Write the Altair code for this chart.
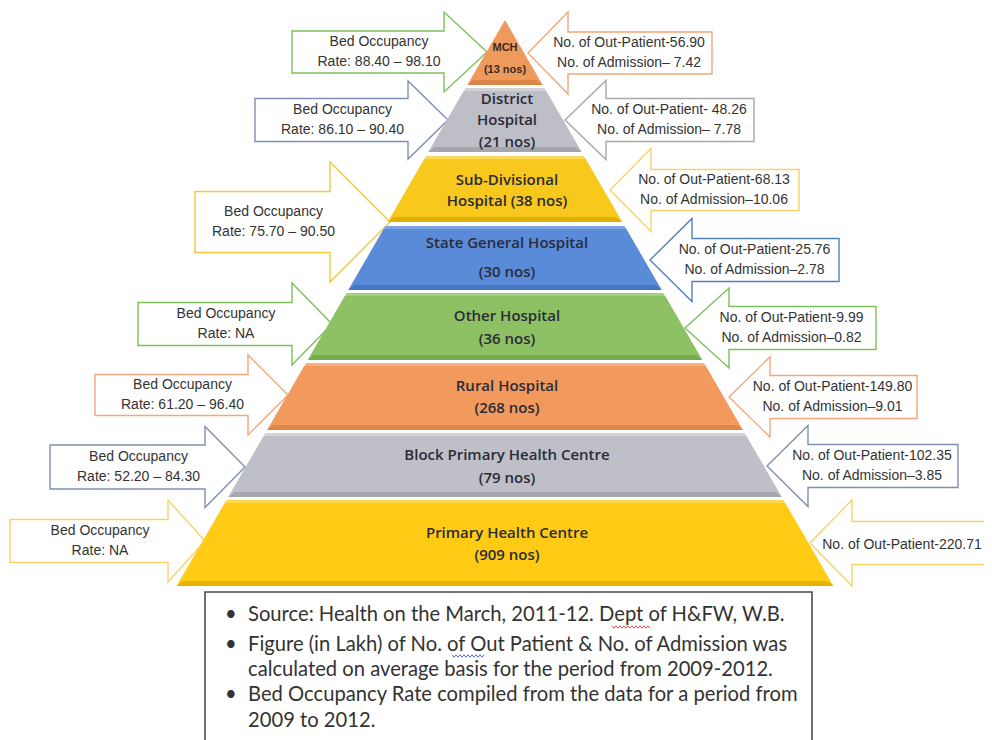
import altair as alt
import pandas as pd

# ------------------------------------------------------------------ data
levels = ["MCH", "District Hospital", "Sub-Divisional Hospital", "State General Hospital",
          "Other Hospital", "Rural Hospital", "Block Primary Health Centre", "Primary Health Centre"]
counts = [13, 21, 38, 30, 36, 268, 79, 909]
band_text = [["MCH", "(13 nos)"],
             ["District", "Hospital", "(21 nos)"],
             ["Sub-Divisional", "Hospital (38 nos)"],
             ["State General Hospital", "(30 nos)"],
             ["Other Hospital", "(36 nos)"],
             ["Rural Hospital", "(268 nos)"],
             ["Block Primary Health Centre", "(79 nos)"],
             ["Primary Health Centre", "(909 nos)"]]
band_colors = ["#EE9A5C", "#BEBEC6", "#F8C81C", "#5A8BD8", "#8DC163", "#F29A5E", "#BFBFC7", "#FFCB14"]
band_dark = ["#DA8546", "#A5A5AE", "#E0B000", "#4675C2", "#76AC4E", "#DE8548", "#A6A6B0", "#E8B300"]
band_light = ["#F4B07E", "#D2D2D8", "#FBD75A", "#7BA3E2", "#A6CF84", "#F6B081", "#D3D3D9", "#FFD84E"]

# bed occupancy (left arrows)
bed_levels = ["MCH", "District Hospital", "Sub-Divisional Hospital", "Other Hospital",
              "Rural Hospital", "Block Primary Health Centre", "Primary Health Centre"]
bed_rates = ["88.40 – 98.10", "86.10 – 90.40", "75.70 – 90.50", "NA",
             "61.20 – 96.40", "52.20 – 84.30", "NA"]
bed_colors = ["#7DBF5A", "#8190B2", "#F2C83A", "#7DBF5A", "#F4A77A", "#8190B2", "#F5D36A"]

# out-patients / admissions in lakh (right arrows)
op_values = ["56.90", "48.26", "68.13", "25.76", "9.99", "149.80", "102.35", "220.71"]
adm_values = ["7.42", "7.78", "10.06", "2.78", "0.82", "9.01", "3.85", ""]
op_sep = ["-", "- ", "-", "-", "-", "-", "-", "-"]
adm_sep = ["– ", "– ", "–", "–", "–", "–", "–", ""]
op_colors = ["#F4A77A", "#A8A8AC", "#F5D36A", "#4F81C7", "#7DBF5A", "#F4A77A", "#8190B2", "#F5D36A"]

notes = ["Source: Health on the March, 2011-12. Dept of H&FW, W.B.",
         "Figure (in Lakh) of No. of Out Patient & No. of Admission was",
         "calculated on average basis for the period from 2009-2012.",
         "Bed Occupancy Rate compiled from the data for a period from",
         "2009 to 2012."]
note_bullet = [True, True, False, True, False]

# ------------------------------------------------------------------ layout (page pixels)
APEX_X, APEX_Y, SLOPE = 505, 20, 0.58
band_top = [20, 88, 156, 226, 293, 363, 433, 500]
band_bot = [85, 152, 222, 290, 360, 430, 497, 586]
band_line_y = [[48, 70], [99, 120, 142], [180, 201], [243, 272], [316, 339],
               [386, 408], [455, 478], [533, 555]]
# arrows: tip_x, tip_y, neck_x, far_x, head_half, body_half
left_arrows = [(487, 52, 444, 292, 40, 21), (448, 120, 408, 255, 39, 21.5),
               (390, 222, 330, 195, 60, 30.5), (332, 324, 292, 138, 41, 21.5),
               (288, 395, 248, 95, 40, 20.5), (245, 467, 205, 50, 40.5, 22),
               (205, 541, 168, 10, 41, 21.5)]
right_arrows = [(528, 53, 568, 712, 41, 21), (565, 120, 606, 754, 39.5, 21.5),
                (610, 190, 651, 799, 41.5, 20.5), (650, 260, 692, 839, 41.5, 21.5),
                (685, 328, 729, 876, 40, 21.5), (729, 397, 770, 917, 40, 21.5),
                (767, 466, 808, 958, 40.5, 21.5), (810, 543, 852, 992, 43, 21.5)]
box = (205, 592, 812, 760)
note_y = [615, 645, 670, 695, 721]
# spell-check underlines: x0, x1, y, colour
squiggles = [(612, 651, 627, "#E05050"), (452, 484, 656, "#5068E0")]


def half(y):
    return SLOPE * (y - APEX_Y)


def feature(pts, fill, stroke="transparent", sw=0.0, closed=True):
    if closed:
        ring = [list(p) for p in pts] + [list(pts[0])]
        geom = {"type": "Polygon", "coordinates": [ring]}
    else:
        geom = {"type": "LineString", "coordinates": [list(p) for p in pts]}
    return {"type": "Feature", "geometry": geom,
            "properties": {"fill": fill, "stroke": stroke, "sw": sw}}


def arrow_pts(tx, ty, nx, fx, H, B):
    return [(fx, ty - B), (nx, ty - B), (nx, ty - H), (tx, ty),
            (nx, ty + H), (nx, ty + B), (fx, ty + B)]


def trap(t, b, inset=0.0):
    return [(APEX_X - half(t) + inset, t), (APEX_X + half(t) - inset, t),
            (APEX_X + half(b), b), (APEX_X - half(b), b)]


features = []
for a, c in zip(left_arrows, bed_colors):
    features.append(feature(arrow_pts(*a), "#FFFFFF", c, 1.4))
for a, c in zip(right_arrows, op_colors):
    features.append(feature(arrow_pts(*a), "#FFFFFF", c, 1.4))

for i in range(len(levels)):
    t, b = band_top[i], band_bot[i]
    if i == 0:
        pts = [(APEX_X, t), (APEX_X + half(b), b), (APEX_X - half(b), b)]
    else:
        pts = trap(t, b)
        features.append(feature(pts, band_light[i]))
        pts = trap(t + 3, b)
    features.append(feature(pts, band_colors[i]))
    features.append(feature(trap(b - 5, b, 3), band_dark[i]))

bx0, by0, bx1, by1 = box
features.append(feature([(bx0, by0), (bx1, by0), (bx1, by1), (bx0, by1)], "#FFFFFF", "#4A4A4A", 1.6))

for x0, x1, y, c in squiggles:
    pts, k, x = [], 0, x0
    while x <= x1:
        pts.append((x, y + (1.2 if k % 2 else -1.2)))
        x += 2
        k += 1
    features.append(feature(pts, "transparent", c, 1.0, closed=False))

P = dict(type="identity", scale=1, translate=[-8, -8])

shapes = alt.Chart(alt.Data(values=features)).mark_geoshape().encode(
    fill=alt.Fill("properties.fill:N", scale=None),
    stroke=alt.Stroke("properties.stroke:N", scale=None),
    strokeWidth=alt.StrokeWidth("properties.sw:Q", scale=None),
).project(**P)

# band labels
rows = []
for i, lines in enumerate(band_text):
    for ln, y in zip(lines, band_line_y[i]):
        rows.append({"x": APEX_X + (2 if i > 0 else 0), "y": y, "t": ln, "big": i > 0})
band_df = pd.DataFrame(rows)
band_lbl = alt.Chart(band_df[band_df.big]).mark_text(
    font="Open Sans", fontSize=15, fontWeight=600, color="#2B2B38", baseline="middle"
).encode(longitude="x:Q", latitude="y:Q", text="t:N").project(**P)
mch_lbl = alt.Chart(band_df[~band_df.big]).mark_text(
    font="Liberation Sans", fontSize=11, fontWeight="bold", color="#3A2A1E", baseline="middle"
).encode(longitude="x:Q", latitude="y:Q", text="t:N").project(**P)

# arrow labels
rows = []
for a, rate in zip(left_arrows, bed_rates):
    tx, ty, nx, fx, H, B = a
    cx = (fx + nx) / 2 + 11
    rows.append({"x": cx, "y": ty - 10, "t": "Bed Occupancy"})
    rows.append({"x": cx, "y": ty + 10, "t": "Rate: " + rate})
for i, a in enumerate(right_arrows):
    tx, ty, nx, fx, H, B = a
    cx = (fx + nx) / 2 - 11
    if adm_values[i]:
        rows.append({"x": cx, "y": ty - 10, "t": "No. of Out-Patient" + op_sep[i] + op_values[i]})
        rows.append({"x": cx, "y": ty + 10, "t": "No. of Admission" + adm_sep[i] + adm_values[i]})
    else:
        rows.append({"x": cx - 9, "y": ty + 2, "t": "No. of Out-Patient" + op_sep[i] + op_values[i]})
arrow_lbl = alt.Chart(pd.DataFrame(rows)).mark_text(
    font="Liberation Sans", fontSize=14, color="#333333", baseline="middle"
).encode(longitude="x:Q", latitude="y:Q", text="t:N").project(**P)

# footnote
rows = []
for ln, y, bul in zip(notes, note_y, note_bullet):
    rows.append({"x": 248, "y": y, "t": ln})
    if bul:
        rows.append({"x": 225, "y": y, "t": "•"})
note_lbl = alt.Chart(pd.DataFrame(rows)).mark_text(
    font="Lato", fontSize=20.2, color="#333333", baseline="middle", align="left"
).encode(longitude="x:Q", latitude="y:Q", text="t:N").project(**P)

chart = alt.layer(shapes, band_lbl, mch_lbl, arrow_lbl, note_lbl).properties(
    width=976, height=732, padding=0, background="#FFFFFF"
).configure_view(strokeWidth=0)

chart.save("out.html", embed_options={"renderer": "svg", "actions": False})
